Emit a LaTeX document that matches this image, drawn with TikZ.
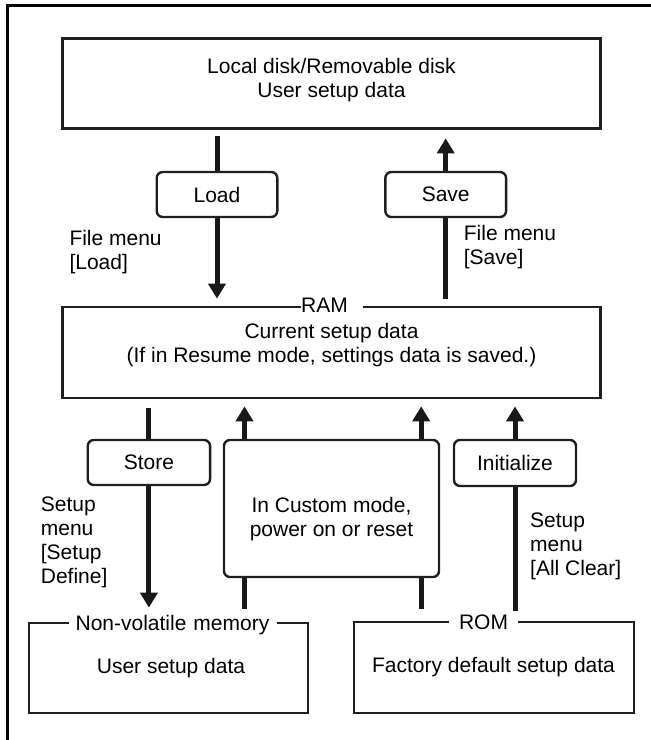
\documentclass[tikz,border=0pt]{standalone}
\usepackage{fontspec}
\setmainfont{Liberation Sans}
\usetikzlibrary{arrows.meta,calc}
\begin{document}
\begin{tikzpicture}[x=1pt,y=-1pt,
  txt/.style={font=\fontsize{21}{24}\selectfont, inner sep=0pt, text=black},
  bigbox/.style={draw=black!88, line width=2.7pt, rectangle, inner sep=0pt},
  rbox/.style={draw=black!88, line width=2.4pt, rounded corners=6pt, inner sep=0pt, font=\fontsize{21}{24}\selectfont},
  shaft/.style={draw=black!90, line width=5pt},
  arr/.style={shaft, -{Triangle[width=17pt,length=15pt]}},
  gaplabel/.style={txt, fill=white, inner xsep=0pt, inner ysep=2.5pt, align=center},
]
\useasboundingbox (0,0) rectangle (651,740);
% outer frame
\coordinate (fbl) at (7.5,740);
\coordinate (ftl) at (7.5,5.7);
\coordinate (ftr) at (651,5.7);
\draw[line width=3pt, black, line join=miter] (fbl) -- (ftl) -- (ftr);

% top box
\node[bigbox, minimum width=537.6pt, minimum height=90pt] (disk) at (331.5,83.3) {};
\node[txt, align=center] (disktxt) at (331.5,80) {Local disk/Removable disk\\User setup data};

% load / save
\node[rbox, minimum width=120.6pt, minimum height=45pt] (load) at (217,194.5) {Load};
\node[rbox, minimum width=120.7pt, minimum height=45pt] (save) at (445.7,194.5) {Save};
\node[txt, anchor=west, align=left] (loadlbl) at (69.3,252.5) {File menu\\{[Load]}};
\node[txt, anchor=west, align=left] (savelbl) at (463.7,247.5) {File menu\\{[Save]}};

% RAM
\node[bigbox, minimum width=537.6pt, minimum height=91pt] (ram) at (331.5,352.5) {};
\node[gaplabel, anchor=base west, text width=62pt, align=left] (ramlbl) at (301,312.5) {RAM};
\node[txt, align=center] (ramtxt) at (331.5,345.5) {Current setup data\\(If in Resume mode, settings data is saved.)};

% lower row
\node[rbox, minimum width=122.3pt, minimum height=45pt] (store) at (148.9,462.5) {Store};
\node[rbox, minimum width=215pt, minimum height=137pt] (custom) at (331.5,508.5) {};
\node[txt, align=center] (customtxt) at (331.5,519) {In Custom mode,\\power on or reset};
\node[rbox, minimum width=122pt, minimum height=46pt] (init) at (515,463) {Initialize};

\node[txt, anchor=west, align=left] (storelbl) at (40.7,542.5) {Setup\\menu\\{[Setup}\\Define]};
\node[txt, anchor=west, align=left] (initlbl) at (530,546.5) {Setup\\menu\\{[All Clear]}};

% bottom boxes
\node[bigbox, minimum width=279pt, minimum height=90pt] (nvm) at (168.5,668) {};
\node[gaplabel, anchor=base, text width=208pt] (nvmlbl) at (172.5,630) {Non-volatile memory};
\node[txt] (nvmtxt) at (171,668) {User setup data};
\node[bigbox, minimum width=280pt, minimum height=91pt] (rom) at (494,667.5) {};
\node[gaplabel, anchor=base, text width=69pt] (romlbl) at (483.5,629.5) {ROM};
\node[txt] (romtxt) at (493.5,667) {Factory default setup data};

% connectors top
\draw[shaft, shorten <=6.7pt] (load.north |- disk.south) -- (load.north);
\draw[arr, shorten >=7pt] (load.south) -- (load.south |- ram.north);
\draw[shaft, shorten <=7pt] (save.south |- ram.north) -- (save.south);
\draw[arr, shorten >=8.7pt] (save.north) -- (save.north |- disk.south);

% connectors bottom
\draw[shaft, shorten <=9pt] (store.north |- ram.south) -- (store.north);
\draw[arr, shorten >=14pt] (store.south) -- (store.south |- nvm.north);

\coordinate (cu1) at ([xshift=21.7pt]custom.north west);
\coordinate (cu2) at ([xshift=-19pt]custom.north east);
\coordinate (cd1) at ([xshift=21.7pt]custom.south west);
\coordinate (cd2) at ([xshift=-19pt]custom.south east);
\draw[arr, shorten >=7pt] (cu1) -- (cu1 |- ram.south);
\draw[arr, shorten >=7pt] (cu2) -- (cu2 |- ram.south);
\draw[shaft, shorten <=13pt] (cd1 |- nvm.north) -- (cd1);
\draw[shaft, shorten <=12pt] (cd2 |- rom.north) -- (cd2);

\draw[arr, shorten >=7pt] (init.north) -- (init.north |- ram.south);
\draw[shaft, shorten <=10pt] (init.south |- rom.north) -- (init.south);
\end{tikzpicture}
\end{document}
